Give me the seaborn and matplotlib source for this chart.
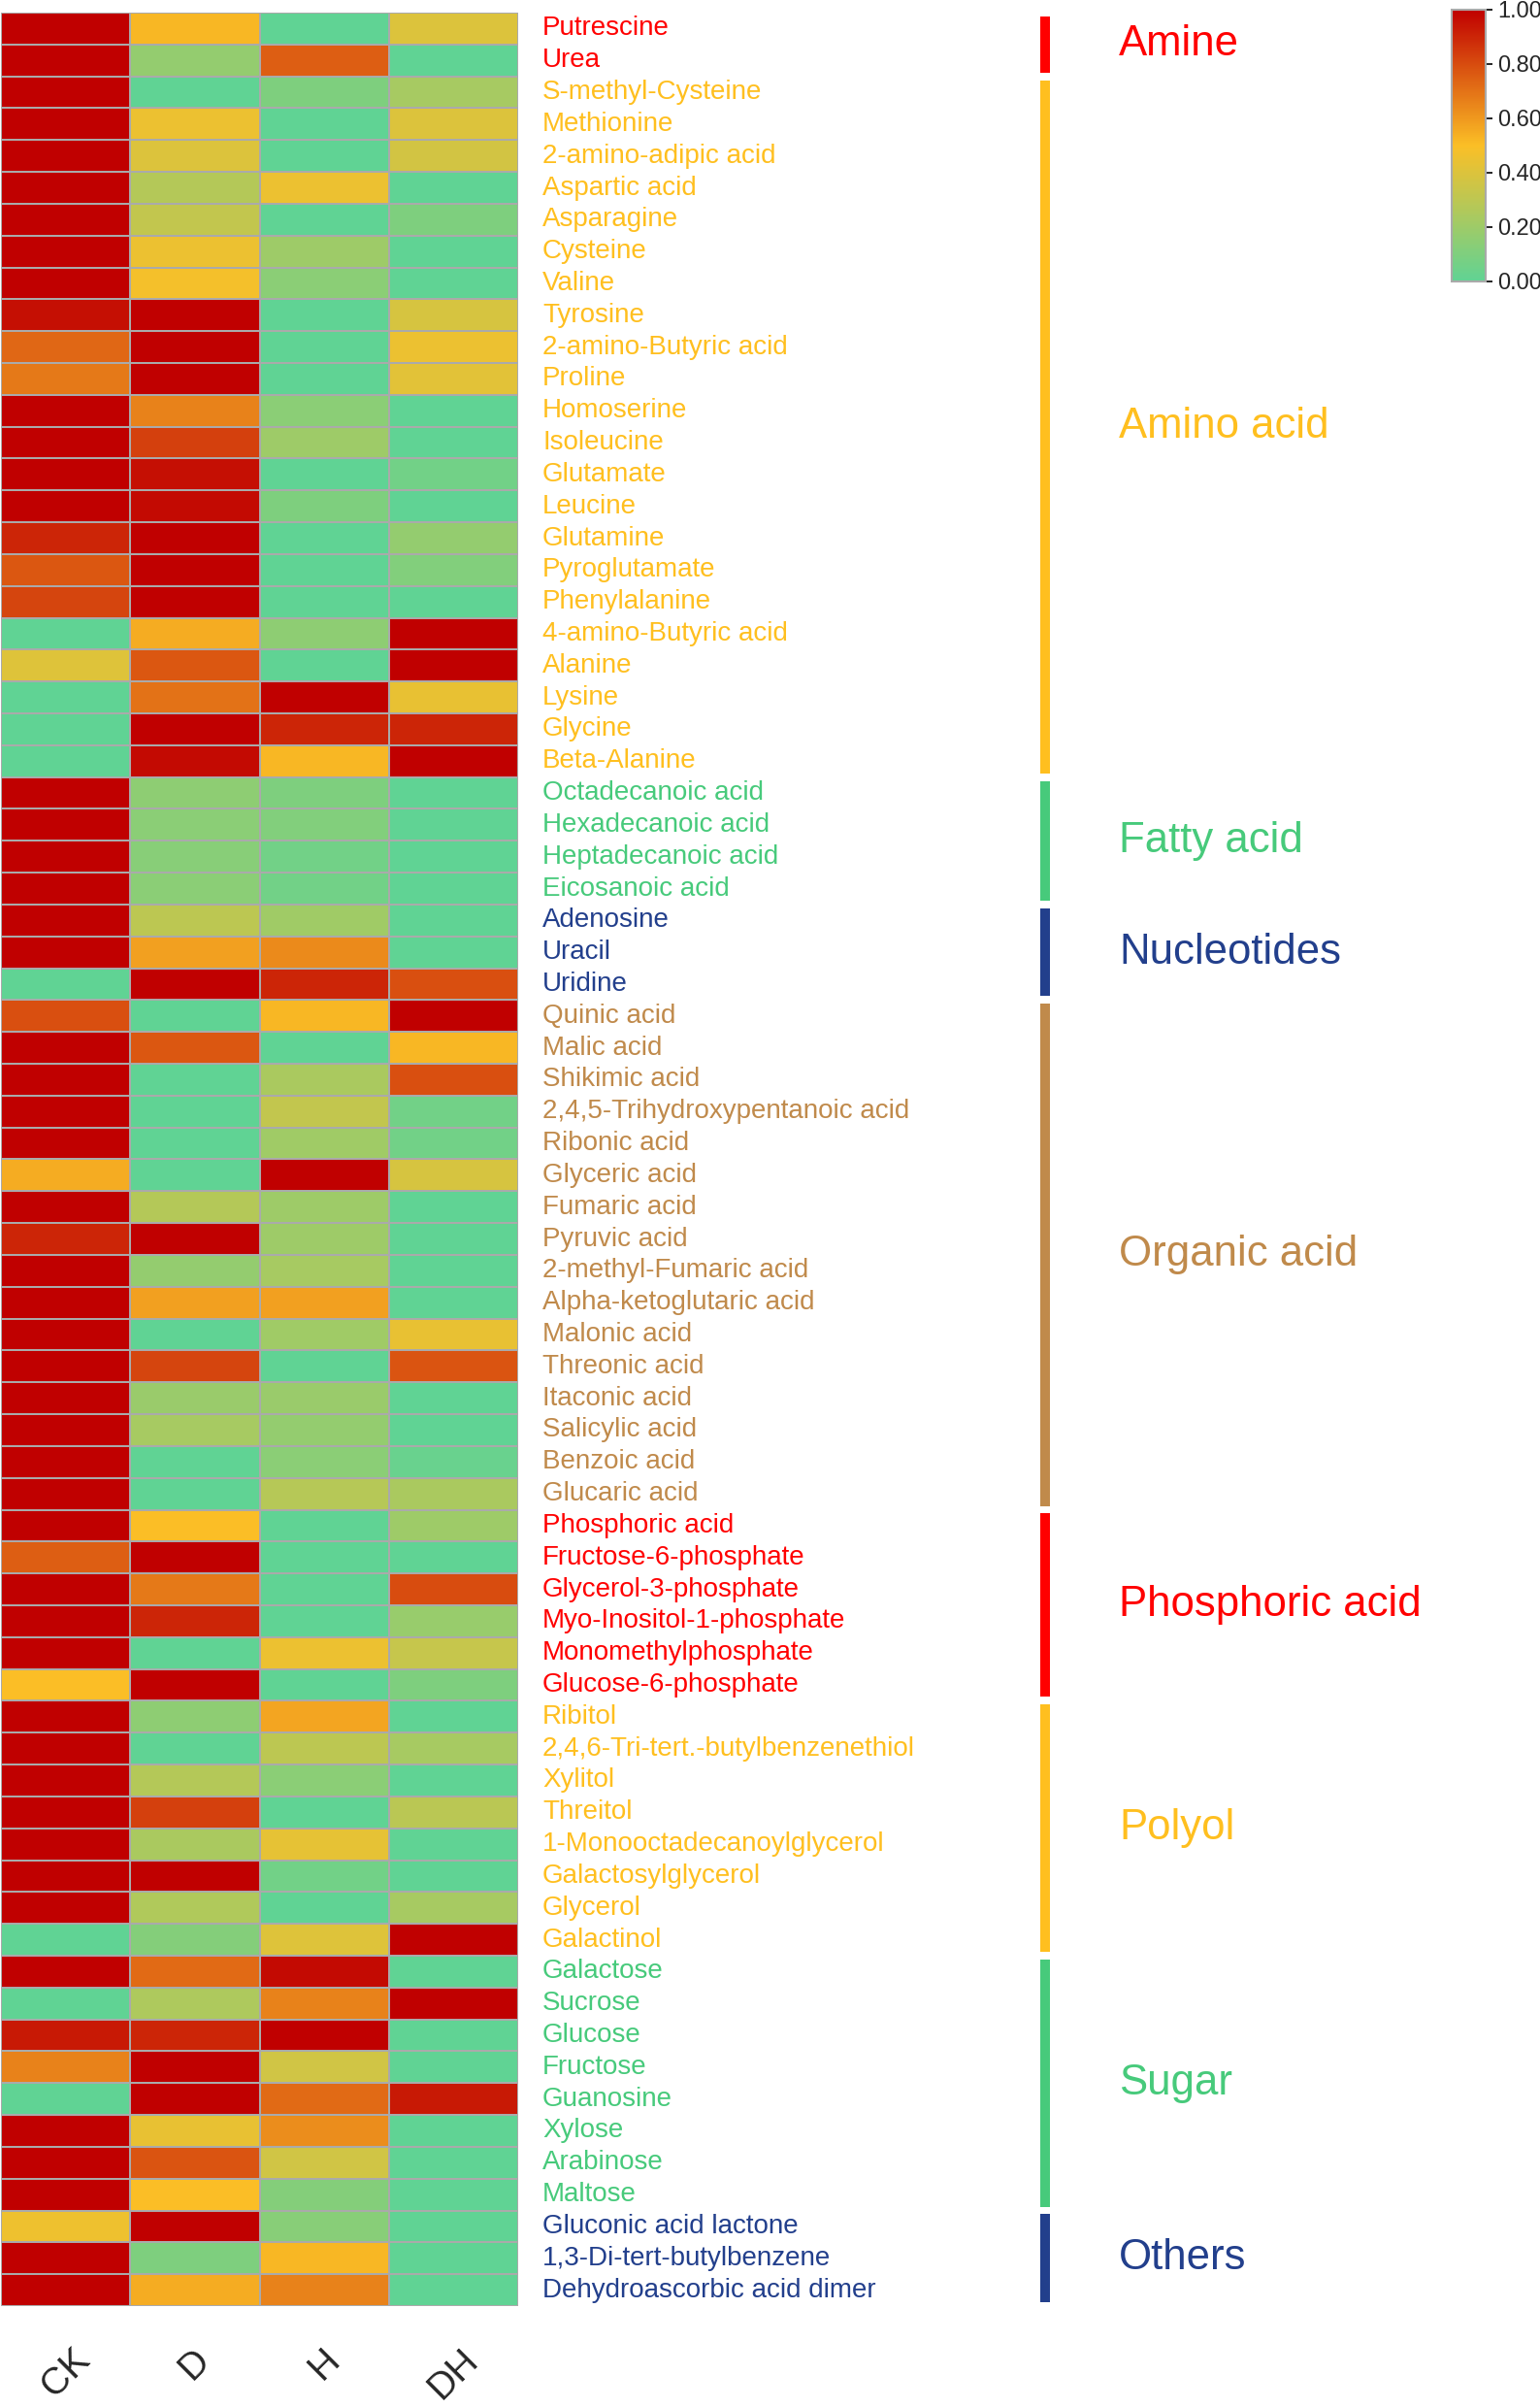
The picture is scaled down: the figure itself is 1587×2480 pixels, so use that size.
import numpy as np
import pandas as pd
import matplotlib
matplotlib.use('Agg')
import matplotlib.pyplot as plt
import seaborn as sns
from matplotlib.colors import LinearSegmentedColormap

# metabolite names, top to bottom
metabolites = ['Putrescine', 'Urea',
               'S-methyl-Cysteine', 'Methionine', '2-amino-adipic acid', 'Aspartic acid', 'Asparagine',
               'Cysteine', 'Valine', 'Tyrosine', '2-amino-Butyric acid', 'Proline', 'Homoserine',
               'Isoleucine', 'Glutamate', 'Leucine', 'Glutamine', 'Pyroglutamate', 'Phenylalanine',
               '4-amino-Butyric acid', 'Alanine', 'Lysine', 'Glycine', 'Beta-Alanine',
               'Octadecanoic acid', 'Hexadecanoic acid', 'Heptadecanoic acid', 'Eicosanoic acid',
               'Adenosine', 'Uracil', 'Uridine',
               'Quinic acid', 'Malic acid', 'Shikimic acid', '2,4,5-Trihydroxypentanoic acid',
               'Ribonic acid', 'Glyceric acid', 'Fumaric acid', 'Pyruvic acid', '2-methyl-Fumaric acid',
               'Alpha-ketoglutaric acid', 'Malonic acid', 'Threonic acid', 'Itaconic acid',
               'Salicylic acid', 'Benzoic acid', 'Glucaric acid',
               'Phosphoric acid', 'Fructose-6-phosphate', 'Glycerol-3-phosphate',
               'Myo-Inositol-1-phosphate', 'Monomethylphosphate', 'Glucose-6-phosphate',
               'Ribitol', '2,4,6-Tri-tert.-butylbenzenethiol', 'Xylitol', 'Threitol',
               '1-Monooctadecanoylglycerol', 'Galactosylglycerol', 'Glycerol', 'Galactinol',
               'Galactose', 'Sucrose', 'Glucose', 'Fructose', 'Guanosine', 'Xylose', 'Arabinose', 'Maltose',
               'Gluconic acid lactone', '1,3-Di-tert-butylbenzene', 'Dehydroascorbic acid dimer']

# class of each block and number of rows
classes = ['Amine', 'Amino acid', 'Fatty acid', 'Nucleotides', 'Organic acid',
           'Phosphoric acid', 'Polyol', 'Sugar', 'Others']
class_sizes = [2, 22, 4, 3, 16, 6, 8, 8, 3]
class_colors = ['#FF0000', '#FFBF1F', '#47CA7B', '#223F8C', '#C08A4B',
                '#FF0000', '#FFBF1F', '#47CA7B', '#223F8C']

treatments = ['CK', 'D', 'H', 'DH']

# relative values (0-1)
ck = [1.0, 1.0,
      1.0, 1.0, 1.0, 1.0, 1.0, 1.0, 1.0, 0.96, 0.73, 0.68, 1.0, 1.0, 1.0, 1.0, 0.90, 0.77, 0.82,
      0.0, 0.41, 0.0, 0.0, 0.0,
      1.0, 1.0, 1.0, 1.0,
      1.0, 1.0, 0.0,
      0.79, 1.0, 1.0, 1.0, 1.0, 0.55, 1.0, 0.90, 1.0, 1.0, 1.0, 1.0, 1.0, 1.0, 1.0, 1.0,
      1.0, 0.75, 1.0, 1.0, 1.0, 0.50,
      1.0, 1.0, 1.0, 1.0, 1.0, 1.0, 1.0, 0.0,
      1.0, 0.0, 0.93, 0.66, 0.0, 1.0, 1.0, 1.0,
      0.46, 1.0, 1.0]
d = [0.52, 0.17,
     0.0, 0.45, 0.40, 0.27, 0.32, 0.45, 0.48, 1.0, 1.0, 1.0, 0.66, 0.83, 0.96, 0.97, 1.0, 1.0, 1.0,
     0.55, 0.77, 0.70, 1.0, 0.97,
     0.15, 0.14, 0.13, 0.14,
     0.30, 0.58, 1.0,
     0.0, 0.77, 0.0, 0.0, 0.0, 0.0, 0.27, 1.0, 0.17, 0.58, 0.0, 0.82, 0.19, 0.23, 0.0, 0.0,
     0.50, 1.0, 0.68, 0.90, 0.0, 1.0,
     0.15, 0.0, 0.27, 0.83, 0.24, 1.0, 0.26, 0.12,
     0.72, 0.25, 0.90, 1.0, 1.0, 0.44, 0.78, 0.50,
     1.0, 0.10, 0.55]
h = [0.0, 0.75,
     0.10, 0.0, 0.0, 0.45, 0.0, 0.20, 0.14, 0.0, 0.0, 0.0, 0.14, 0.20, 0.0, 0.10, 0.0, 0.0, 0.0,
     0.15, 0.0, 1.0, 0.90, 0.52,
     0.10, 0.11, 0.06, 0.06,
     0.21, 0.64, 0.90,
     0.52, 0.0, 0.24, 0.32, 0.21, 1.0, 0.20, 0.20, 0.23, 0.58, 0.21, 0.0, 0.19, 0.17, 0.14, 0.28,
     0.0, 0.0, 0.0, 0.0, 0.45, 0.0,
     0.57, 0.30, 0.14, 0.0, 0.43, 0.06, 0.0, 0.41,
     0.97, 0.66, 1.0, 0.36, 0.72, 0.63, 0.36, 0.12,
     0.13, 0.52, 0.66]
dh = [0.40, 0.0,
      0.23, 0.40, 0.37, 0.0, 0.10, 0.0, 0.0, 0.38, 0.45, 0.42, 0.0, 0.0, 0.06, 0.0, 0.17, 0.11, 0.0,
      1.0, 1.0, 0.44, 0.90, 1.0,
      0.0, 0.0, 0.0, 0.0,
      0.0, 0.0, 0.79,
      1.0, 0.52, 0.79, 0.06, 0.06, 0.38, 0.0, 0.0, 0.0, 0.0, 0.44, 0.78, 0.0, 0.0, 0.03, 0.24,
      0.20, 0.0, 0.80, 0.18, 0.33, 0.10,
      0.0, 0.23, 0.0, 0.29, 0.0, 0.0, 0.23, 1.0,
      0.0, 1.0, 0.0, 0.0, 0.93, 0.0, 0.0, 0.0,
      0.0, 0.0, 0.0]

df = pd.DataFrame({'CK': ck, 'D': d, 'H': h, 'DH': dh}, index=metabolites)[treatments]

# colour of each row label from its class
row_colors = []
for c, n in zip(class_colors, class_sizes):
    row_colors += [c] * n

cmap = LinearSegmentedColormap.from_list('gyr', ['#60D394', '#FBBF26', '#C00000'])

sns.set_style('white')
plt.rcParams['font.family'] = ['Liberation Sans', 'DejaVu Sans']

W, H = 1587, 2480
fig = plt.figure(figsize=(W / 100, H / 100), dpi=100)
ax = fig.add_axes([1 / W, 1 - 2376 / H, 533 / W, (2376 - 13) / H])
cax = fig.add_axes([1496 / W, 1 - 290 / H, 35 / W, 280 / H])

sns.heatmap(df, ax=ax, cbar_ax=cax, cmap=cmap, vmin=0, vmax=1,
            linewidths=1.1, linecolor='#AAAAAA',
            xticklabels=treatments, yticklabels=metabolites,
            cbar_kws={'ticks': [0, 0.2, 0.4, 0.6, 0.8, 1.0], 'format': '%.2f'})

# row labels on the right, coloured by class
ax.yaxis.tick_right()
ax.tick_params(axis='y', length=0, pad=18, labelsize=20, labelright=True, labelleft=False)
for lab, col in zip(ax.get_yticklabels(), row_colors):
    lab.set_color(col)
    lab.set_rotation(0)
    lab.set_va('center')

ax.tick_params(axis='x', length=0, pad=27, labelsize=28)
for lab in ax.get_xticklabels():
    lab.set_rotation(45)
    lab.set_ha('center')
    lab.set_va('top')

# colorbar styling
cbar = ax.collections[0].colorbar
cbar.outline.set_edgecolor('#AAAAAA')
cbar.outline.set_linewidth(1.5)
cbar.ax.tick_params(labelsize=17, length=5, width=1.2, color='black', pad=4)

# class bars and labels
bax = fig.add_axes([1066 / W, 1 - 2376 / H, 22 / W, (2376 - 13) / H])
bax.set_xlim(0, 1)
bax.set_ylim(len(metabolites), 0)
bax.axis('off')
start = 0
for name, n, col in zip(classes, class_sizes, class_colors):
    bax.vlines(0.5, start + 0.12, start + n - 0.12, colors=col, linewidth=7.2, capstyle='butt')
    bax.text(3.95, start + n / 2, name, color=col, fontsize=31.5, va='center', ha='left',
             clip_on=False)
    start += n

fig.savefig('out.png', dpi=100, facecolor='white')
